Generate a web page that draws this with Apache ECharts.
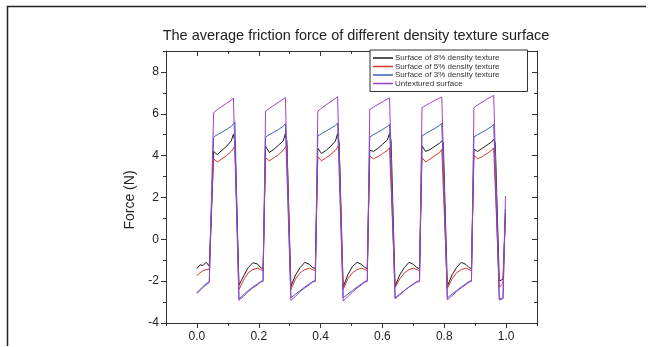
<!DOCTYPE html>
<html>
<head>
<meta charset="utf-8">
<script src="https://cdn.jsdelivr.net/npm/echarts@6/dist/echarts.min.js"></script>
<style>
html,body{margin:0;padding:0;background:#fff;}
#chart{width:650px;height:347px;}
</style>
</head>
<body>
<div id="chart"></div>
<script>
// ---- data ----
var titleText = 'The average friction force of different density texture surface';
var yName = 'Force (N)';
var seriesNames = ['Surface of 8% density texture', 'Surface of 5% density texture', 'Surface of 3% density texture', 'Untextured surface'];
var xTickLabels = [0, 0.2, 0.4, 0.6, 0.8, 1.0];
var xMinorTicks = [-0.1, 0.1, 0.3, 0.5, 0.7, 0.9, 1.1];
var yTickLabels = [-4, -2, 0, 2, 4, 6, 8];
var yMinorTicks = [-3, -1, 1, 3, 5, 7, 9];

var xs = [
  0.000, 0.010, 0.020, 0.030, 0.040,
  0.046, 0.054, 0.066, 0.081, 0.096, 0.111, 0.118, 0.123, 0.136, 0.151, 0.166, 0.181, 0.196, 0.206,
  0.214, 0.222, 0.234, 0.249, 0.264, 0.279, 0.286, 0.291, 0.304, 0.319, 0.334, 0.349, 0.364, 0.374,
  0.383, 0.391, 0.403, 0.418, 0.433, 0.448, 0.455, 0.460, 0.473, 0.488, 0.503, 0.518, 0.533, 0.543,
  0.551, 0.559, 0.571, 0.586, 0.601, 0.616, 0.623, 0.628, 0.641, 0.656, 0.671, 0.686, 0.701, 0.711,
  0.720, 0.728, 0.740, 0.755, 0.770, 0.785, 0.792, 0.797, 0.810, 0.825, 0.840, 0.855, 0.870, 0.880,
  0.888, 0.896, 0.908, 0.923, 0.938, 0.953, 0.960, 0.965, 0.978, 0.990, 0.998
];
var black8 = [
  -1.40, -1.22, -1.25, -1.10, -1.28,
  -1.35, 4.20, 4.05, 4.25, 4.45, 4.70, 5.02, 4.65, -2.20, -1.75, -1.35, -1.12, -1.18, -1.35,
  -1.40, 4.45, 4.15, 4.30, 4.50, 4.70, 5.05, 4.70, -2.25, -1.70, -1.35, -1.10, -1.20, -1.35,
  -1.40, 4.35, 4.10, 4.25, 4.45, 4.70, 5.05, 4.60, -2.29, -1.70, -1.30, -1.10, -1.20, -1.35,
  -1.40, 4.26, 4.20, 4.35, 4.55, 4.75, 5.05, 4.70, -2.25, -1.70, -1.35, -1.10, -1.20, -1.35,
  -1.40, 4.46, 4.20, 4.30, 4.45, 4.60, 4.70, 4.60, -2.25, -1.70, -1.35, -1.10, -1.20, -1.35,
  -1.40, 4.30, 4.20, 4.35, 4.50, 4.65, 4.78, 4.60, -2.00, -1.90, 1.30
];
var red5 = [
  -1.73, -1.60, -1.50, -1.45, -1.43,
  -1.48, 3.84, 3.70, 3.85, 4.00, 4.20, 4.35, 4.46, -2.40, -1.95, -1.60, -1.45, -1.38, -1.45,
  -1.50, 3.90, 3.75, 3.90, 4.05, 4.25, 4.40, 4.50, -2.40, -1.90, -1.60, -1.45, -1.38, -1.45,
  -1.50, 3.95, 3.75, 3.90, 4.05, 4.25, 4.40, 4.50, -2.40, -1.90, -1.60, -1.45, -1.38, -1.45,
  -1.50, 3.98, 3.85, 3.95, 4.10, 4.25, 4.38, 4.41, -2.30, -1.90, -1.60, -1.45, -1.38, -1.45,
  -1.50, 3.90, 3.70, 3.85, 4.00, 4.15, 4.30, 4.35, -2.35, -1.90, -1.60, -1.45, -1.38, -1.45,
  -1.50, 4.00, 3.85, 3.95, 4.10, 4.25, 4.37, 4.40, -2.30, -2.10, 1.20
];
var blue3 = [
  -2.55, -2.40, -2.25, -2.12, -2.02,
  -1.97, 4.89, 5.00, 5.12, 5.25, 5.40, 5.52, 5.62, -2.85, -2.65, -2.45, -2.28, -2.12, -2.02,
  -1.97, 4.89, 5.00, 5.12, 5.25, 5.40, 5.52, 5.60, -2.80, -2.62, -2.45, -2.28, -2.12, -2.02,
  -1.97, 4.94, 5.05, 5.18, 5.30, 5.45, 5.55, 5.62, -2.80, -2.62, -2.45, -2.28, -2.12, -2.02,
  -1.97, 4.89, 5.00, 5.12, 5.25, 5.40, 5.50, 5.57, -2.80, -2.62, -2.45, -2.28, -2.12, -2.02,
  -1.97, 4.94, 5.05, 5.18, 5.30, 5.45, 5.55, 5.62, -2.80, -2.62, -2.45, -2.28, -2.12, -2.02,
  -1.97, 4.89, 5.00, 5.12, 5.25, 5.40, 5.50, 5.57, -2.85, -2.80, 1.45
];
var purpleU = [
  -2.60, -2.45, -2.30, -2.17, -2.07,
  -2.02, 6.05, 6.20, 6.35, 6.50, 6.65, 6.75, 6.84, -2.92, -2.72, -2.50, -2.32, -2.17, -2.05,
  -2.02, 6.13, 6.25, 6.40, 6.55, 6.70, 6.78, 6.84, -2.92, -2.72, -2.50, -2.32, -2.17, -2.05,
  -2.02, 6.13, 6.27, 6.43, 6.58, 6.73, 6.82, 6.90, -2.95, -2.74, -2.52, -2.33, -2.17, -2.05,
  -2.02, 6.20, 6.32, 6.45, 6.58, 6.70, 6.76, 6.80, -2.84, -2.65, -2.45, -2.28, -2.15, -2.05,
  -2.02, 6.29, 6.40, 6.52, 6.64, 6.75, 6.80, 6.84, -2.90, -2.70, -2.50, -2.32, -2.17, -2.05,
  -2.02, 6.29, 6.42, 6.56, 6.70, 6.82, 6.88, 6.92, -2.90, -2.84, 2.07
];
var seriesValues = [black8, red5, blue3, purpleU];
var seriesColors = ['#1a1a1a', '#d9352b', '#3d5fb8', '#a040c8'];

// ---- chart ----
function pairs(ys) { return xs.map(function (x, i) { return [x, ys[i]]; }); }

var chart = echarts.init(document.getElementById('chart'), null, {renderer: 'canvas'});
var axisColor = '#333';
var fontFam = 'Liberation Sans, Arial, sans-serif';

var option = {
  backgroundColor: '#fff',
  animation: false,
  title: {
    text: titleText,
    left: 351, top: 23, textAlign: 'center',
    textStyle: {fontFamily: fontFam, fontSize: 14.5, fontWeight: 'normal', color: '#222'}
  },
  legend: {
    data: seriesNames,
    orient: 'vertical',
    left: 370, top: 50,
    icon: 'rect',
    itemWidth: 20, itemHeight: 1.5, itemGap: 0.5,
    padding: [4, 28, 4, 3],
    borderColor: '#333', borderWidth: 1, borderRadius: 0,
    backgroundColor: '#fff',
    textStyle: {fontFamily: fontFam, fontSize: 8, lineHeight: 7.5, color: '#333', padding: [0, 0, 0, -3]}
  },
  grid: {left: 166, top: 51, width: 371, height: 272},
  xAxis: [
    {type: 'value', min: -0.1, max: 1.1, position: 'bottom',
     axisLine: {show: true, onZero: false, lineStyle: {color: axisColor, width: 1}},
     axisTick: {show: true, length: 5, customValues: xTickLabels, lineStyle: {color: axisColor}},
     axisLabel: {show: true, customValues: xTickLabels, margin: 8, formatter: function (v) { return v.toFixed(1); }, fontFamily: fontFam, fontSize: 12, color: '#222'},
     splitLine: {show: false}},
    {type: 'value', min: -0.1, max: 1.1, position: 'bottom',
     axisLine: {show: false, onZero: false},
     axisTick: {show: true, length: 3, customValues: xMinorTicks, lineStyle: {color: axisColor}},
     axisLabel: {show: false}, splitLine: {show: false}},
    {type: 'value', min: -0.1, max: 1.1, position: 'top',
     axisLine: {show: true, onZero: false, lineStyle: {color: axisColor, width: 1}},
     axisTick: {show: true, inside: true, length: 5, customValues: xTickLabels, lineStyle: {color: axisColor}},
     axisLabel: {show: false}, splitLine: {show: false}},
    {type: 'value', min: -0.1, max: 1.1, position: 'top',
     axisLine: {show: false, onZero: false},
     axisTick: {show: true, inside: true, length: 3, customValues: xMinorTicks, lineStyle: {color: axisColor}},
     axisLabel: {show: false}, splitLine: {show: false}}
  ],
  yAxis: [
    {type: 'value', min: -4, max: 9, position: 'left',
     name: yName, nameLocation: 'middle', nameGap: 25, nameRotate: 90,
     nameTextStyle: {fontFamily: fontFam, fontSize: 14, color: '#222', padding: [0, 26, 0, 0]},
     axisLine: {show: true, onZero: false, lineStyle: {color: axisColor, width: 1}},
     axisTick: {show: true, length: 5, customValues: yTickLabels, lineStyle: {color: axisColor}},
     axisLabel: {show: true, customValues: yTickLabels, margin: 7, fontFamily: fontFam, fontSize: 12, color: '#222'},
     splitLine: {show: false}},
    {type: 'value', min: -4, max: 9, position: 'left',
     axisLine: {show: false, onZero: false},
     axisTick: {show: true, length: 3, customValues: yMinorTicks, lineStyle: {color: axisColor}},
     axisLabel: {show: false}, splitLine: {show: false}},
    {type: 'value', min: -4, max: 9, position: 'right',
     axisLine: {show: true, onZero: false, lineStyle: {color: axisColor, width: 1}},
     axisTick: {show: true, inside: true, length: 5, customValues: yTickLabels, lineStyle: {color: axisColor}},
     axisLabel: {show: false}, splitLine: {show: false}},
    {type: 'value', min: -4, max: 9, position: 'right',
     axisLine: {show: false, onZero: false},
     axisTick: {show: true, inside: true, length: 3, customValues: yMinorTicks, lineStyle: {color: axisColor}},
     axisLabel: {show: false}, splitLine: {show: false}}
  ],
  series: seriesNames.map(function (name, i) {
    return {
      name: name, type: 'line', xAxisIndex: 0, yAxisIndex: 0,
      data: pairs(seriesValues[i]),
      symbol: 'none', smooth: false,
      lineStyle: {color: seriesColors[i], width: 1},
      itemStyle: {color: seriesColors[i]},
      z: 2 + i
    };
  }),
  graphic: [
    {type: 'polyline', silent: true, z: 100,
     shape: {points: [[7.5, 346], [7.5, 6.5], [646, 6.5]]},
     style: {stroke: '#222', lineWidth: 1.5, fill: null}}
  ]
};
chart.setOption(option);
</script>
</body>
</html>
